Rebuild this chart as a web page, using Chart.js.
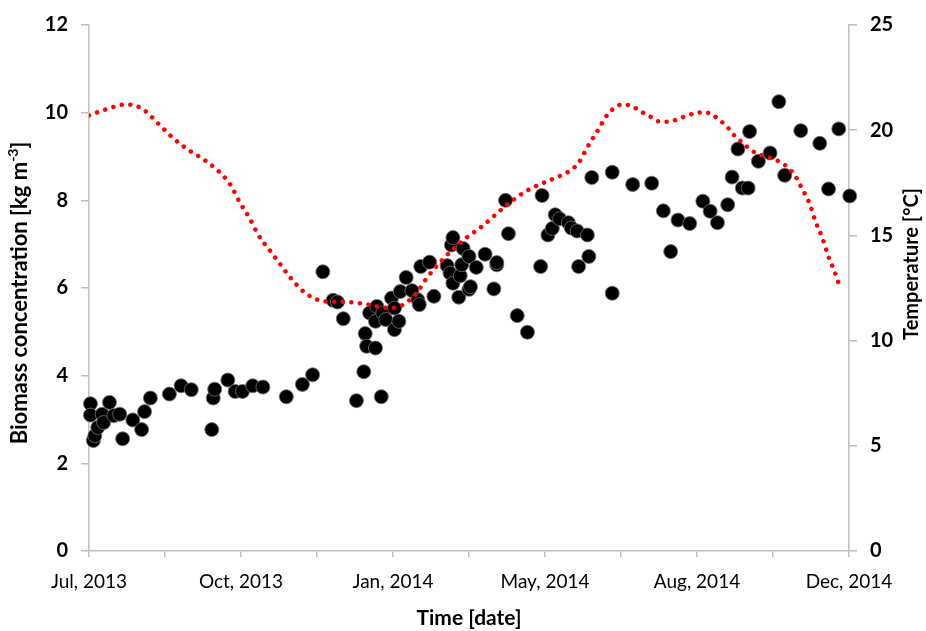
<!DOCTYPE html>
<html>
<head>
<meta charset="utf-8">
<script src="https://cdn.jsdelivr.net/npm/chart.js@4/dist/chart.umd.min.js"></script>
<style>
  html, body { margin: 0; background: #fff; }
  #wrap { width: 926px; height: 631px; }
</style>
</head>
<body>
<div id="wrap"><canvas id="grafico"></canvas></div>
<script>
// x values are days counted from 1 Jul 2013, major ticks every 104 days
const tickLabels = ['Jul, 2013', 'Oct, 2013', 'Jan, 2014', 'May, 2014', 'Aug, 2014', 'Dec, 2014'];

// biomass samples (day, kg m-3)
const sampleDay = [1, 1, 3, 4, 6, 9, 10, 14, 17, 21, 23, 30, 36, 38, 42, 55, 63, 70, 84, 85, 86, 95, 100, 105, 112, 119,
  135, 146, 153, 160, 167, 170, 174, 183, 188, 189, 190, 192, 196, 196, 197, 200, 201, 203, 207, 209, 209, 212, 213, 217,
  221, 225, 226, 227, 233, 236, 245, 247, 248, 249, 249, 253, 254, 255, 256, 260, 260, 261, 265, 271, 277, 279, 279, 285,
  287, 293, 300, 309, 310, 314, 317, 319, 322, 328, 330, 334, 335, 341, 342, 344, 358, 358, 372, 385, 393, 398, 403, 411,
  420, 425, 430, 437, 440, 444, 447, 451, 452, 458, 466, 472, 476, 487, 500, 506, 513, 520.5];
const biomass = [3.36, 3.10, 2.52, 2.63, 2.82, 3.12, 2.93, 3.39, 3.09, 3.12, 2.56, 2.99, 2.77, 3.18, 3.49, 3.58, 3.77, 3.68,
  2.77, 3.49, 3.69, 3.90, 3.64, 3.64, 3.77, 3.74, 3.52, 3.80, 4.02, 6.37, 5.72, 5.68, 5.30, 3.43, 4.09, 4.96, 4.67, 5.43,
  4.63, 5.24, 5.58, 3.52, 5.43, 5.28, 5.77, 5.54, 5.05, 5.24, 5.92, 6.24, 5.94, 5.73, 5.62, 6.49, 6.59, 5.81, 6.51, 6.34,
  6.98, 7.15, 6.11, 5.79, 6.28, 6.53, 6.90, 6.72, 5.97, 6.03, 6.47, 6.77, 5.98, 6.53, 6.58, 8.00, 7.24, 5.37, 4.99, 6.49,
  8.11, 7.21, 7.36, 7.67, 7.58, 7.49, 7.37, 7.30, 6.49, 7.21, 6.72, 8.52, 8.64, 5.88, 8.36, 8.39, 7.76, 6.83, 7.55, 7.47,
  7.98, 7.75, 7.49, 7.90, 8.53, 9.17, 8.28, 8.28, 9.57, 8.89, 9.08, 10.25, 8.57, 9.59, 9.30, 8.26, 9.63, 8.10];

// water temperature curve (day, °C)
const tempDay = [0, 12, 25, 32, 38, 47, 57, 67, 78, 88, 97, 103, 110, 116, 124, 132, 140, 149, 162, 175, 188, 201, 207,
  214, 219, 224, 231, 240, 249, 259, 270, 279, 289, 300, 312, 324, 330, 335, 341, 348, 355, 360, 365, 372, 378, 384, 389,
  396, 402, 409, 415, 421, 427, 432, 437, 441, 446, 451, 456, 463, 469, 475, 480, 484, 487, 493, 497, 502, 506, 511, 513];
const temperature = [20.70, 21.00, 21.22, 21.16, 20.94, 20.34, 19.66, 19.11, 18.63, 18.09, 17.38, 16.59, 15.80, 15.01,
  14.26, 13.52, 12.81, 12.21, 11.86, 11.84, 11.75, 11.58, 11.55, 11.67, 11.91, 12.25, 12.96, 13.71, 14.33, 14.93, 15.49,
  16.04, 16.62, 17.14, 17.53, 17.88, 18.12, 18.45, 19.19, 19.98, 20.76, 21.08, 21.23, 21.12, 20.87, 20.65, 20.43, 20.40,
  20.50, 20.69, 20.81, 20.86, 20.71, 20.45, 20.13, 19.79, 19.47, 19.17, 18.92, 18.76, 18.61, 18.40, 18.11, 17.74, 17.34,
  16.51, 15.68, 14.83, 13.99, 13.12, 12.70];

const FONT = 'Lato, "Open Sans", sans-serif';
const GRIS = '#bfbfbf';

// vertical axis titles, both reading bottom to top; the left one has a superscript
const titulosEjes = {
  id: 'titulosEjes',
  afterDraw(chart) {
    const ctx = chart.ctx;
    const area = chart.chartArea;
    ctx.save();
    ctx.fillStyle = '#000';
    ctx.textBaseline = 'middle';
    ctx.textAlign = 'left';

    const big = 'bold 22px ' + FONT;
    const small = 'bold 14px ' + FONT;
    const partes = ['Biomass concentration [kg m', '-3', ']'];
    ctx.font = big;
    const w1 = ctx.measureText(partes[0]).width;
    const w3 = ctx.measureText(partes[2]).width;
    ctx.font = small;
    const w2 = ctx.measureText(partes[1]).width;
    let x = -(w1 + w2 + w3) / 2;
    ctx.translate(20, (area.top + area.bottom) / 2 + 5);
    ctx.rotate(-Math.PI / 2);
    ctx.font = big;
    ctx.fillText(partes[0], x, 0);
    ctx.font = small;
    ctx.fillText(partes[1], x + w1, -7);
    ctx.font = big;
    ctx.fillText(partes[2], x + w1 + w2, 0);
    ctx.restore();

    ctx.save();
    ctx.fillStyle = '#000';
    ctx.textBaseline = 'middle';
    ctx.textAlign = 'center';
    ctx.font = 'bold 20px ' + FONT;
    ctx.translate(912, 264);
    ctx.rotate(-Math.PI / 2);
    ctx.fillText('Temperature [°C]', 0, 0);
    ctx.restore();
  }
};

document.addEventListener('DOMContentLoaded', () => {
  const puntos = sampleDay.map((d, i) => ({ x: d, y: biomass[i] }));
  const curva = tempDay.map((d, i) => ({ x: d, y: temperature[i] }));

  new Chart(document.getElementById('grafico'), {
    type: 'scatter',
    data: {
      datasets: [{
        label: 'Temperature',
        data: curva,
        yAxisID: 'y2',
        showLine: true,
        order: 0,
        borderColor: '#ff0000',
        borderWidth: 4.5,
        borderCapStyle: 'round',
        borderDash: [0.01, 8.6],
        cubicInterpolationMode: 'monotone',
        pointRadius: 0,
        fill: false
      }, {
        label: 'Biomass',
        data: puntos,
        yAxisID: 'y',
        order: 1,
        clip: false,
        pointRadius: 7,
        backgroundColor: '#000',
        borderColor: 'rgba(110,110,110,0.85)',
        borderWidth: 1
      }]
    },
    options: {
      responsive: true,
      maintainAspectRatio: false,
      animation: false,
      layout: { padding: { top: 22, left: 0, right: 0, bottom: 0 } },
      plugins: { legend: { display: false }, tooltip: { enabled: false } },
      scales: {
        x: {
          type: 'linear',
          min: 0,
          max: 520,
          afterFit: s => { s.height = 80; },
          ticks: {
            stepSize: 52,
            autoSkip: false,
            maxRotation: 0,
            padding: 13,
            color: '#000',
            font: { family: FONT, size: 19 },
            callback: (v, i) => (i % 2 === 0 ? tickLabels[i / 2] : '')
          },
          grid: { drawOnChartArea: false, tickLength: 6, color: GRIS, lineWidth: 1.5 },
          border: { color: GRIS, width: 1.5 },
          title: {
            display: true,
            text: 'Time [date]',
            color: '#000',
            font: { family: FONT, size: 21, weight: 'bold' },
            padding: { top: 0, bottom: 0 }
          }
        },
        y: {
          position: 'left',
          min: 0,
          max: 12,
          afterFit: s => { s.width = 89; },
          ticks: { stepSize: 2, padding: 13, color: '#000', font: { family: FONT, size: 20, weight: 'bold' } },
          grid: { drawOnChartArea: false, tickLength: 8, color: GRIS, lineWidth: 1.5 },
          border: { color: GRIS, width: 1.5 }
        },
        y2: {
          position: 'right',
          min: 0,
          max: 25,
          afterFit: s => { s.width = 77; },
          ticks: { stepSize: 5, padding: 13, color: '#000', font: { family: FONT, size: 20, weight: 'bold' } },
          grid: { drawOnChartArea: false, tickLength: 8, color: GRIS, lineWidth: 1.5 },
          border: { color: GRIS, width: 1.5 }
        }
      }
    },
    plugins: [titulosEjes]
  });
});
</script>
</body>
</html>
